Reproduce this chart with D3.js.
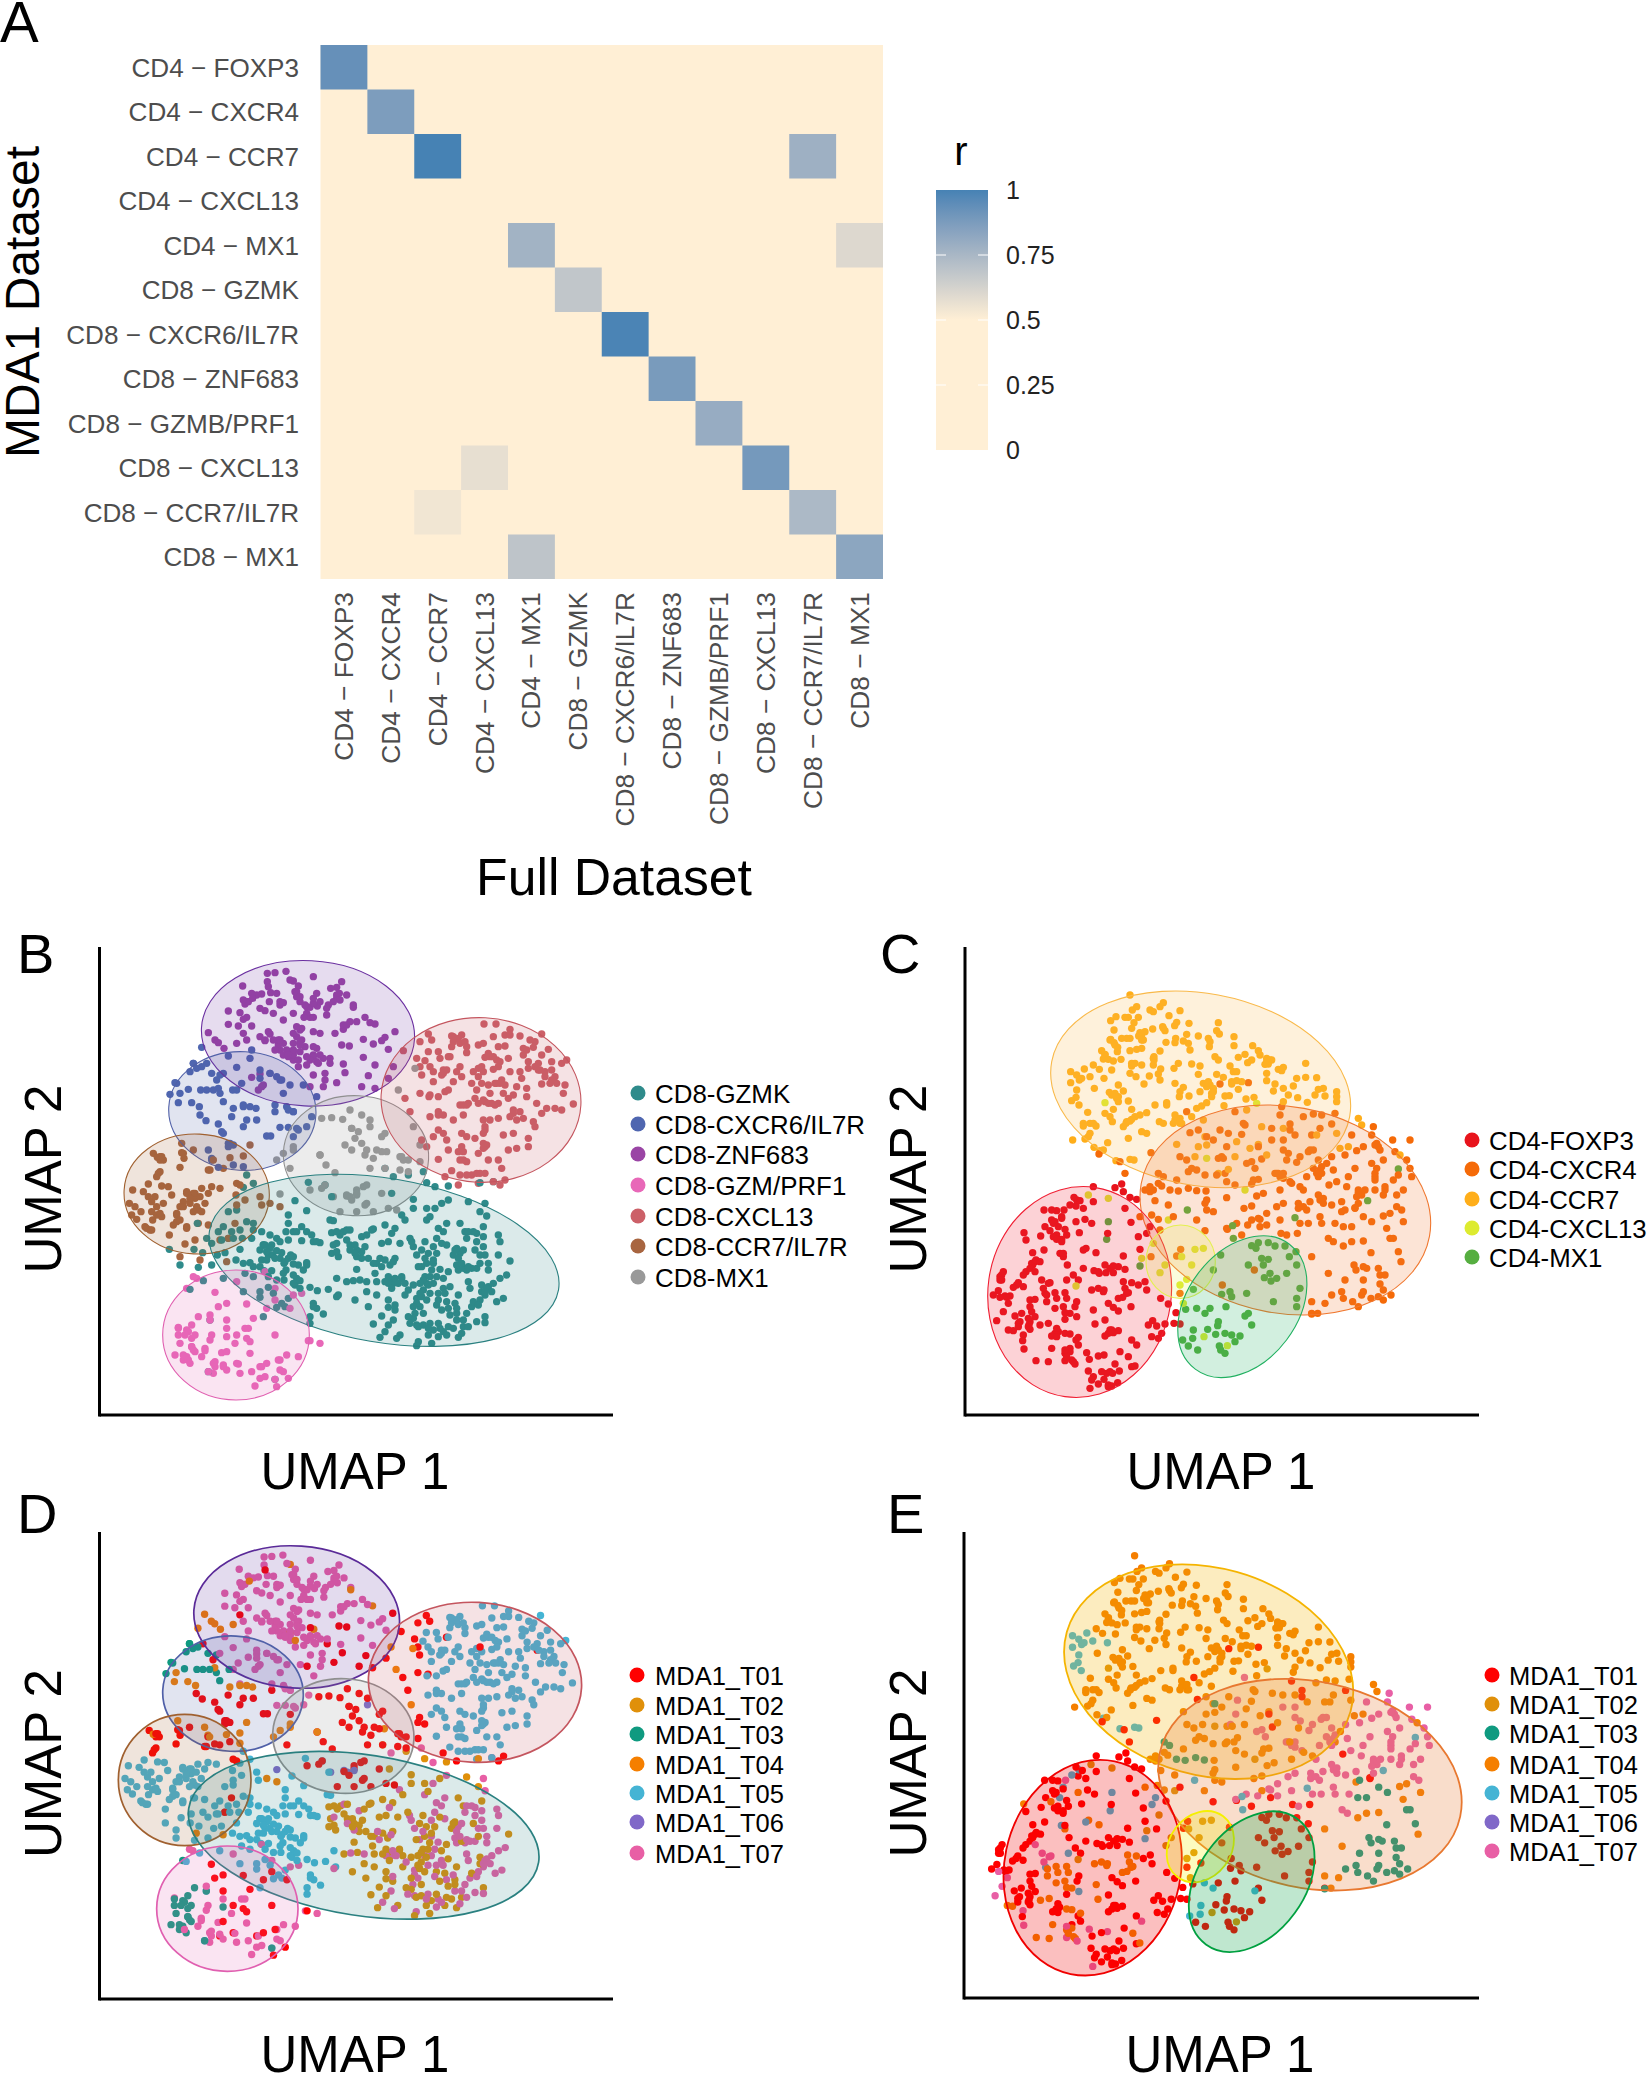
<!DOCTYPE html>
<html><head><meta charset="utf-8">
<script src="https://cdn.jsdelivr.net/npm/d3@7"></script>
<style>html,body{margin:0;background:#fff}svg{display:block}text{font-family:"Liberation Sans",Arial,sans-serif}</style>
</head><body><svg id="c" width="1647" height="2076"></svg>
<script>
// ---------- Panel A ----------
const heatLabels=["CD4 − FOXP3","CD4 − CXCR4","CD4 − CCR7","CD4 − CXCL13","CD4 − MX1","CD8 − GZMK","CD8 − CXCR6/IL7R","CD8 − ZNF683","CD8 − GZMB/PRF1","CD8 − CXCL13","CD8 − CCR7/IL7R","CD8 − MX1"];
// [row, column, r]; every pair not listed is below 0.5
const heatValues=[[0,0,.93],[1,1,.87],[2,2,1],[2,10,.78],[4,4,.77],[4,11,.6],[5,5,.68],[6,6,.99],[7,7,.88],[8,8,.8],[9,3,.57],[9,9,.89],[10,2,.54],[10,10,.74],[11,4,.69],[11,11,.83]];
const heatTicks=[0,.25,.5,.75,1];
const heatTickText=["0","0.25","0.5","0.75","1"];

// ---------- CD8 cells: cluster_sample = x,y,x,y,... ----------
const GZMK_T05=[300,1005,268,958,355,1012,342,958,368,968,395,1005,412,975,435,968,480,958,468,990,490,1000,510,998,545,990,540,1010,552,1022,575,1022,555,945,570,955,590,962,578,975,560,965,605,968,612,1000,625,985,632,975,618,1020,640,1002,655,1005,680,998,612,1050,640,1060,660,1052,690,1072,712,1082,745,1078,775,1095,770,1045,520,760,500,735,490,772,445,845,470,840,430,890,455,905,500,875,520,880,545,905,570,915,590,925,625,855,625,880,650,905,665,890,680,905,695,915,618,905,625,930,665,932,710,935,550,945,415,905,425,930,445,925,460,925,487,925,515,925,352,880,380,925,395,940,430,1045,370,1052,330,1078,490,1085,540,1102,565,1072,625,1105,615,1130,590,1132,700,1120,710,1135,730,1152,690,1160,690,1180,550,1160,390,1170,645,812,680,842,685,757,735,765,755,800,760,872,750,870,385,1325,585,1348,540,960,550,945,565,975,600,985,615,995,640,980,520,900,480,900,700,935,720,938,680,1005,645,1065,660,1075,700,1130,640,905,600,935,575,945,585,985,560,990,520,1010,495,1030,520,1040,565,1040,590,1050,640,1035,650,1045,670,1020,610,1030,540,1085,580,1090,605,1120];
const GZMK_T02=[1105,768,1040,758,1200,758,915,715,985,735,1000,808,935,790,1040,835,1085,820,1165,815,1200,845,1000,835,975,870,1050,860,1140,880,915,885,880,897,860,915,945,895,810,900,790,905,770,905,755,908,780,915,800,930,810,945,830,960,825,970,855,950,905,940,925,935,865,985,845,985,755,970,770,965,775,980,960,940,1035,935,1085,940,1130,955,1045,970,1015,1010,945,985,890,1000,915,990,885,1030,830,1018,1060,990,1055,1020,1105,1025,925,1040,965,1045,915,1055,935,1075,975,1060,890,1055,1000,1065,1030,1050,1050,1040,1045,1065,1030,1080,1110,1070,1205,1065,1290,993,1135,1095,1075,1110,1100,1115,1020,1090,1000,1130,1030,1150,1000,1165,1030,1185,1075,1180,1100,1215,1130,1150,1110,1155,1150,1190,1135,1222,1215,1160,945,1140,925,1185,900,1222,960,1215,1045,1215,1010,1247,1055,1240,905,1158,880,1182,925,1132,865,1130,890,1095,860,1085,825,1110,1125,960,1120,975,1150,1015,1200,1000,1185,960,1155,905,1210,890,1040,1000,1035,1040,1020,1060,1090,1045,1040,1110,1025,1100,1085,1140,1130,1135,1180,1115,1205,1085,985,1160,1015,1190,1060,1200,1105,1190,1120,1195,965,1040,930,1050,975,1095,925,1110,845,965,825,945,875,900,760,945,990,925,1025,960,1070,970,880,1000,930,1005,840,1050,800,1055];
const GZMK_T07=[1240,755,940,740,1030,725,1065,770,1065,835,1105,810,1215,820,1220,858,965,855,1040,870,1100,880,1165,905,1190,910,1210,920,1255,915,1190,935,1260,935,1075,895,1090,905,935,910,995,935,1070,925,1100,945,1150,960,1135,985,1145,1000,1165,1010,1190,1015,1210,950,1215,975,1225,1000,1255,975,1035,985,1010,975,940,995,1080,1018,1135,1020,1160,1020,945,1045,940,1060,1060,1060,1090,1075,1165,1055,1170,1075,1225,1070,1240,1060,1260,1045,1280,1035,1235,1085,1215,1085,1200,1110,1175,1130,1160,1150,1250,1115,1270,1105,1095,1090,1070,1125,1010,1105,1020,1130,1010,1185,1045,1195,1080,1195,1075,1220,1130,1170,1165,1190,1145,1210,1190,1175,1215,1178,940,1170,915,1205,950,1225,1015,1235,1140,970,1130,1005,1175,1015,1225,1020,1200,975,1180,905,1160,925,1060,1000,1025,1010,1040,1060,1070,1040,1050,1090,1010,1120,1075,1090,1125,1120,1105,1135,1195,1125,1220,1075,1215,1095,1005,1150,990,1180,1050,1180,1090,1205,1150,1170,955,1060,925,1060,985,1080,945,1125,830,980,810,960,845,920,800,900,770,940,1000,950,1060,950,900,985,905,1010,860,1055,820,1052,770,1100];
const CXCL13_T05=[1212,282,1115,318,1135,325,1145,315,1120,335,1155,335,1160,350,1160,368,1115,350,1110,380,1075,365,1080,385,1045,365,1035,392,1050,410,1060,425,1100,420,1090,430,1140,410,1130,425,1145,440,1120,455,1105,480,1060,455,1047,500,1075,500,1095,485,1195,345,1210,340,1240,320,1275,315,1290,315,1320,318,1350,330,1365,335,1385,312,1255,350,1330,355,1360,352,1405,358,1330,375,1385,375,1225,370,1240,380,1215,382,1260,395,1255,410,1285,385,1345,395,1375,400,1415,395,1445,400,1460,390,1195,415,1180,425,1210,425,1240,418,1290,425,1320,425,1325,445,1345,415,1380,420,1415,420,1395,440,1425,440,1410,460,1455,465,1195,440,1175,460,1205,460,1225,465,1245,460,1265,450,1275,465,1310,470,1340,475,1385,462,1450,490,1230,490,1190,480,1185,505,1140,525,1165,520,1195,520,1215,515,1235,520,1255,520,1270,490,1285,505,1300,495,1340,500,1400,535,1425,535,1445,540,1385,550,1480,522,1150,555,1300,540,1320,545,1290,560,1255,565,1230,570,1360,575,1075,545,1090,555,1050,560,1120,570,1210,570,1215,590,1270,615,1300,610,1345,625,1075,600,1060,620,1100,630,1145,610,1160,620,1185,625,1220,645,1210,655,1195,670,1145,650,1105,660,1135,665,1285,660,1310,655,1345,650,1140,690,1160,695,1225,690,1255,690,1265,715,1075,688,1200,730,1175,735,1160,735,1140,735,1215,730,1248,282,1290,298,1275,348,1370,520,1365,590,1115,722,1195,760,1240,755,1120,320,1140,340,1090,420,1085,435,1230,380,1250,390,1340,360,1365,410,1395,425,1415,450,1430,460,1250,460,1260,460,1210,510,1225,520,1245,525,1160,525,1150,525,1300,550,1310,570,1330,565,1215,600,1210,610,1150,665,1150,690,1210,640,1215,650,1190,730,1075,555,1090,610];
const CXCL13_T01=[1020,335,1055,330,1045,312,970,362,1010,385,1020,410,1025,435,1050,495,1020,490,975,505,990,545,1025,630,1040,650,1095,740,1135,765,1260,765,1275,750,1105,380,1205,410,1375,420];
const ZNF683_T07=[562,130,585,128,618,124,700,140,630,150,562,155,488,168,655,168,785,155,770,172,515,190,545,192,572,188,590,190,645,185,650,200,710,190,700,205,752,175,778,190,800,195,770,205,760,215,490,210,505,215,495,222,568,215,610,218,600,225,660,215,675,225,690,232,712,228,745,225,740,235,820,225,445,243,480,248,540,235,555,242,580,250,640,250,680,250,672,262,690,262,700,262,740,255,500,262,490,268,610,270,855,262,830,275,870,278,445,283,475,288,515,288,800,285,790,298,650,290,665,295,640,310,565,305,570,312,700,305,720,310,765,310,555,332,580,330,595,330,650,320,665,330,660,345,675,350,850,328,880,342,905,332,915,322,500,330,595,345,585,360,640,360,620,360,660,365,700,380,720,375,690,390,715,400,750,385,625,380,610,375,640,390,655,410,680,405,700,435,735,430,735,450,730,470,885,405,850,382,925,358,790,402,550,465,535,480,545,470,515,442,540,432,680,230,700,220,720,215,770,195,780,210,650,185,660,200,600,330,610,340,640,340,680,380,700,375,710,395,730,385,600,360,625,375,640,375,660,335,660,300,790,285,810,275,540,320,555,330,600,215,530,195,500,215];
const ZNF683_T01=[490,310,785,345,808,348,770,458,700,350,565,170,865,437,795,428,750,400,945,305,925,445,845,470,885,475,690,470];
const ZNF683_T04=[640,153,518,205,820,232,885,282,385,308,405,330,432,355,415,338,470,340,710,355,640,365,655,390,940,410];
const CXCR6_T07=[445,378,470,412,515,360,510,385,430,430,485,460,540,420,570,430,590,440,600,450,630,465,670,465,610,490,620,530,640,545,655,600,680,590,600,592,625,592,650,595,710,500,695,560,470,480,490,525,540,445,605,450,570,430,640,545,625,540,585,525];
const CXCR6_T03=[285,458,340,400,330,425,325,478,362,480,380,480,400,480,420,490,430,515,458,480,270,493,290,460,350,415,395,430,420,435,340,400,365,410];
const CXCR6_T04=[365,352,295,518,335,518,358,530,300,490,415,475,460,535,490,530,510,530,528,535,385,660,395,685,490,710];
const CXCR6_T01=[380,400,410,450,360,555,378,572,415,582,430,610,445,640,560,618,572,618,455,560,500,570,530,570,585,545,640,620,490,590,425,605,445,650,460,645,450,640,395,690,415,712,460,705];
const CCR7_T05=[158,780,205,762,190,785,245,768,265,770,275,795,148,820,165,830,183,845,155,855,170,868,195,890,215,900,205,800,225,800,250,820,215,815,230,830,240,850,218,870,280,885,300,870,290,855,310,830,320,785,345,790,365,775,395,770,420,775,330,820,345,805,360,800,355,840,385,790,375,820,268,915,320,895,345,930,315,942,300,980,468,795,540,800,545,825,495,810,470,825,355,880,385,885,420,930,320,790,340,790,330,805,310,815,300,830,350,830,365,845,215,845,230,855,245,860,290,850,290,875,200,895,210,900,340,845,320,890];
const CCR7_T01=[245,680,220,670,305,668,312,685,340,660,430,715,385,720,470,760,480,765,300,712,235,730,465,880,445,925,240,690,240,680,250,690,310,670,230,740,240,725,390,720];
const CCR7_T04=[305,640,450,683,490,678,400,690,360,990,440,995,600,830,570,820,232,682,510,645];
const MX1_T01=[725,565,755,563,810,540,845,555,788,568,870,570,815,595,835,605,825,625,795,645,815,660,845,640,855,675,890,660,905,665,880,685,965,680,985,690,915,715,870,715,960,720,985,725,720,675,765,728,800,798,815,810,830,780,860,765,905,790,855,825,830,845,780,845,925,835,1020,695,1020,645,690,780,725,775,735,765,880,845,950,840,630,715,738,705,905,620,915,610,960,680,970,690,860,660,815,595,850,770,860,820,830,790];
const MX1_T04=[720,675,920,665,610,670,640,660,590,690,1000,590,1005,415,955,480,640,650];
const MX1_T06=[800,795,810,800,830,795,760,800,870,590,600,792];
const GZM_T03=[320,1075,355,1160,335,1225,345,1215,295,1215,300,1240,335,1250,345,1265,320,1280,330,1300,310,1290,390,1170,385,1325,585,1348,440,1220,295,1195,320,1200,335,1185,285,1275,325,1205,315,1215,335,1250,340,1260,310,1275];
const GZM_T01=[405,1087,440,1120,415,1130,500,1122,520,1165,440,1170,470,1215,500,1225,510,1235,440,1265,585,1215,560,1135,585,1110,630,1135,690,1232,560,1300,590,1370,595,1290,625,1345,470,1300,430,1310,540,1310];
const GZM_T07=[340,1040,350,1045,470,1055,555,1025,585,1075,640,1095,665,1090,295,1192,390,1155,395,1215,390,1230,440,1195,495,1195,505,1195,465,1240,425,1268,375,1262,365,1280,400,1300,405,1310,430,1305,440,1320,400,1330,480,1330,475,1302,515,1325,545,1310,555,1340,525,1368,540,1345,600,1290,620,1275,600,1320,610,1325,655,1280,720,1240,685,1232,510,1270,325,1290,405,1295,375,1255];
const cd8Groups=[["CD8-GZMK","MDA1_T05",GZMK_T05],["CD8-GZMK","MDA1_T02",GZMK_T02],["CD8-GZMK","MDA1_T07",GZMK_T07],["CD8-CXCL13","MDA1_T05",CXCL13_T05],["CD8-CXCL13","MDA1_T01",CXCL13_T01],["CD8-ZNF683","MDA1_T07",ZNF683_T07],["CD8-ZNF683","MDA1_T01",ZNF683_T01],["CD8-ZNF683","MDA1_T04",ZNF683_T04],["CD8-CXCR6/IL7R","MDA1_T07",CXCR6_T07],["CD8-CXCR6/IL7R","MDA1_T03",CXCR6_T03],["CD8-CXCR6/IL7R","MDA1_T04",CXCR6_T04],["CD8-CXCR6/IL7R","MDA1_T01",CXCR6_T01],["CD8-CCR7/IL7R","MDA1_T05",CCR7_T05],["CD8-CCR7/IL7R","MDA1_T01",CCR7_T01],["CD8-CCR7/IL7R","MDA1_T04",CCR7_T04],["CD8-MX1","MDA1_T01",MX1_T01],["CD8-MX1","MDA1_T04",MX1_T04],["CD8-MX1","MDA1_T06",MX1_T06],["CD8-GZM/PRF1","MDA1_T03",GZM_T03],["CD8-GZM/PRF1","MDA1_T01",GZM_T01],["CD8-GZM/PRF1","MDA1_T07",GZM_T07]];

// ---------- CD4 cells ----------
const CD4CCR7_T04=[540,105,640,128,630,140,560,140,547,150,600,150,610,155,690,152,657,167,498,170,482,182,525,172,535,172,565,172,552,188,680,187,674,197,717,190,805,188,545,205,492,210,608,207,638,200,645,212,585,215,570,218,566,228,800,212,808,222,710,223,745,228,852,230,515,235,530,235,540,235,580,240,482,238,492,248,677,235,675,248,648,247,700,243,715,250,775,235,780,245,778,260,852,257,908,257,503,262,502,275,455,272,465,283,460,297,475,298,540,272,560,268,575,265,630,273,720,270,925,272,930,285,885,283,865,292,612,290,795,290,805,300,490,303,513,298,612,300,610,315,545,310,555,310,575,315,905,300,893,308,950,295,965,300,945,313,955,312,725,312,685,310,750,318,672,325,840,318,850,335,985,328,995,332,1067,310,430,315,448,328,485,330,632,327,540,340,558,350,598,348,625,342,630,360,745,343,800,343,820,352,860,335,950,340,1040,355,1067,352,1100,353,582,372,675,370,775,365,770,380,760,370,845,365,860,362,875,365,950,362,975,372,700,382,433,385,505,375,1030,378,1000,385,1105,388,1120,385,478,397,495,400,520,393,690,395,688,410,717,408,750,395,790,395,785,410,970,393,865,388,1160,395,1095,405,1125,408,1015,405,1160,410,1160,425,500,415,505,425,535,423,825,408,838,407,888,417,912,412,770,428,755,438,740,445,615,435,650,435,822,437,1043,413,1072,427,1000,425,545,448,490,448,465,460,413,457,725,470,675,465,690,475,590,458,570,465,555,470,540,483,528,490,520,500,480,470,487,485,628,485,640,490,670,490,690,490,430,490,400,498,438,498,420,520,415,530,575,515,590,520,535,535,405,537,368,540,473,548,432,562,460,570,760,480,890,450,1000,505,1100,525,1160,520,1225,475,1235,495,1195,560,1170,565,1350,585,935,500,765,530,745,560,770,555,680,553,860,545,900,565,925,553,950,585,855,590,735,590,805,640,835,628,480,240,495,255,465,285,575,225,575,240,780,375,790,385,785,400,1000,322,950,305,845,372,530,485,545,478,675,480,695,490,650,428,610,295,545,318,640,205,485,405,505,410,960,300,400,490,420,490];
const CD4CCR7_T05=[403,327,362,335,380,345,395,355,420,350,462,355,362,368,388,360,380,390,365,422,378,412,387,435,450,572,540,598,552,600,498,602];
const CD4CXCR4_T07=[1270,500,1265,525,1240,560,1280,550,1290,570,1300,600,1335,575,1328,540,1380,540,1370,600,1345,645,1380,625,1385,650,1330,660,1220,572,1205,525,1185,585,1145,590,1105,600,1115,620,1090,625,1105,650,1080,570,1040,607,1265,610,1280,625,1275,660,1215,625,1195,650,1150,630,1160,665,1070,650,1020,665,1000,655,975,640,1060,690,1105,705,1120,730,1145,735,1175,725,1190,680,1225,690,1245,690,1275,690,1305,680,1300,705,1360,690,1340,705,1225,730,1235,705,1340,740,1355,750,1080,725,1045,745,1070,750,1000,730,980,740,950,760,925,775,1110,770,1115,790,1155,790,1050,790,1010,825,990,780,950,795,930,778,893,795,860,790,830,805,1135,835,1150,845,1075,790,855,455,835,520,830,560,815,590,890,610,915,625,905,605,965,540,1000,540,1000,570,1015,580,1050,590,1075,575,1090,570,1275,555,1285,560,1275,640,1275,650,1110,630,1100,640,1225,697,1220,710,1060,740,1045,730,1120,715,1110,720,1305,690,980,640,990,650,1000,640];
const CD4CXCR4_T03=[1205,800,1263,878,1212,915,1218,930,1240,920,1250,925,1285,925,1290,945,1305,945,1185,960,1240,960,1290,972,1300,990,1240,995,1235,1005,1175,995,1145,1005,1180,1015,1208,1025,1225,1040,1263,1015,1285,1010,1300,1020,1323,1005,1180,800,1265,785,1240,770,1185,750,1320,835,1330,835,1345,875,770,530,660,690,685,693,715,685,740,692,625,640,640,650,1085,1062];
const CD4CXCR4_T04=[1240,843,1180,858,1205,845,1320,760,1300,768,1360,785,1175,755,1310,805,1353,905,1085,890,1135,940,1125,1030,1085,1025,1103,1060,600,680,585,690,610,690,635,678,680,660,768,693,770,720,765,730,830,665,855,675,910,660,925,658,905,672,830,713,882,745,905,738,940,700,920,708,880,490,885,495,810,510,745,510,790,540,875,523,805,595,820,595,690,590,710,600,725,625,740,630,715,635,765,645,800,645,825,640,965,505,1110,505,1090,462,1115,465,1155,460,1060,470,1085,525,1035,525,995,440,1010,600,985,640,1115,640,1130,610,990,690,1025,670,1050,680,770,750,790,755,740,780,625,778,570,770,655,735,615,722,605,765,905,780,600,695,625,670];
const CD4CXCR4_T01=[810,372,895,368,710,455,990,465,1020,492,1145,492,720,518,925,560,935,597,603,578,447,582,510,605,525,640,1137,675,1215,743,930,800,993,820,1042,820,765,812,875,825,832,808,670,770,630,810,692,868,680,888,603,890,690,1000,913,930,817,975,1215,745,1020,510,1085,1060];
const FOXP3_T01=[430,680,495,683,515,672,520,695,540,712,560,718,372,712,390,722,378,738,400,745,430,725,525,745,282,750,305,750,320,752,335,775,310,790,285,800,345,808,350,825,405,778,425,790,388,818,272,828,228,840,310,830,320,838,335,845,543,787,565,830,473,820,248,878,282,870,340,880,570,868,520,888,258,900,270,905,248,915,240,925,352,915,465,915,490,918,505,920,400,925,525,928,432,932,448,940,468,938,490,938,228,935,220,945,160,935,150,950,155,960,370,945,385,960,205,968,190,982,220,980,565,975,585,965,590,990,145,992,130,1005,165,1008,180,1008,240,1020,255,1018,632,1015,475,1030,490,1042,380,1025,375,1040,240,1040,245,1055,505,1053,543,1040,655,1032,255,1070,215,1060,195,1068,235,1075,345,1078,210,1085,465,1080,237,1095,205,1100,678,1058,608,1082,595,1095,620,1098,645,1092,672,1090,690,1092,240,1108,320,1105,485,1110,505,1112,475,1120,305,1128,320,1130,465,1128,605,1130,625,1135,635,1120,218,1142,378,1140,545,1140,385,1155,360,1165,510,1175,418,1198,445,1188,495,1212,545,1220,415,1233,455,1235,470,1240,488,1240,508,1233,430,1250,425,1260,462,1258,445,1272,475,1280,485,1278,503,1268,255,905,245,910,315,1120,325,1115,240,1085,235,1100,205,1090,480,1235,475,1275,480,925,445,935,305,780,315,785,320,825,335,838,155,945,150,960,200,975,170,1012,480,1110,490,1118];
const FOXP3_T04=[222,818,300,812,378,785,408,865,438,878,340,890,430,1050,425,990,445,985,462,990,520,965,545,968,525,985,535,998,518,1012,505,1015,290,1005,315,998,345,998,320,1015,350,1015,290,1025,315,1045,340,1040,345,1058,360,1060,175,1110,190,1112,270,1095,295,1090,435,1092,345,1120,360,1122,385,1132,305,1165,350,1190,365,1200,258,1202,295,1205,555,1218,535,1190,530,1000,460,995,360,1175,345,1180,370,1205];
const FOXP3_T07=[342,750,275,960,300,968,280,985,160,1055,140,1082,220,1125,560,1155,222,1167,345,1170,410,1178,345,1202,375,1212,462,1185,420,1285,150,1012,175,1030,255,935,295,970];
const FOXP3_T05=[380,720,360,735,335,770,325,800,600,800,590,820,400,870,330,880,350,960,285,1000,380,1070];
const CD4MX1_T01=[812,885,895,915,955,898,918,865,955,848,1038,875,943,953,963,963,980,955,970,1025,1040,1015,815,1003,840,995,845,1010,730,988,707,1048,780,1045,828,1040,895,1060,805,1085,803,1097,773,1108,797,1123,825,1120,845,1125,870,1128,715,1158,743,1170,808,1158,812,1170,825,1180,905,857,925,848,975,858,1005,858,1018,890,1040,915,1010,940,940,915,935,895,960,940,1050,985,1040,1040,890,1000,855,1145,905,1095,790,930];
const CD4MX1_T05=[475,785,470,838,570,918,1035,773,848,797,712,750,1253,722,1345,627,850,835,740,1045,765,1060,730,1110,728,1135,698,1140,885,1068];
const CD4CXCL13_T02=[690,975,710,958,762,1130,832,1157,885,690,920,430,770,595,655,780,735,868,760,865,695,890,725,915,630,938,645,915,575,895,610,850,700,1030,378,978,475,715,415,705,465,428];
const cd4Groups=[["CD4-CCR7","MDA1_T04",CD4CCR7_T04],["CD4-CCR7","MDA1_T05",CD4CCR7_T05],["CD4-CXCR4","MDA1_T07",CD4CXCR4_T07],["CD4-CXCR4","MDA1_T03",CD4CXCR4_T03],["CD4-CXCR4","MDA1_T04",CD4CXCR4_T04],["CD4-CXCR4","MDA1_T01",CD4CXCR4_T01],["CD4-FOXP3","MDA1_T01",FOXP3_T01],["CD4-FOXP3","MDA1_T04",FOXP3_T04],["CD4-FOXP3","MDA1_T07",FOXP3_T07],["CD4-FOXP3","MDA1_T05",FOXP3_T05],["CD4-MX1","MDA1_T01",CD4MX1_T01],["CD4-MX1","MDA1_T05",CD4MX1_T05],["CD4-CXCL13","MDA1_T02",CD4CXCL13_T02]];

// ---------- legends ----------
const cd8Names=["CD8-GZMK","CD8-CXCR6/IL7R","CD8-ZNF683","CD8-GZM/PRF1","CD8-CXCL13","CD8-CCR7/IL7R","CD8-MX1"];
const cd8Colors=["#2F8B8B","#4F66B0","#9A45A5","#E868B8","#CC6068","#A86540","#999999"];
const cd4Names=["CD4-FOXP3","CD4-CXCR4","CD4-CCR7","CD4-CXCL13","CD4-MX1"];
const cd4Colors=["#E8141C","#F56A08","#FFAE1A","#DDEB30","#56AE40"];
const sampleNames=["MDA1_T01","MDA1_T02","MDA1_T03","MDA1_T04","MDA1_T05","MDA1_T06","MDA1_T07"];
const sampleColors=["#FF0000","#E0900A","#0F9A80","#F57F00","#45B4D4","#8068C8","#E85FA5"];

// ---------- ellipses: name,cx,cy,rx,ry,angle,stroke in panel crop units ----------
const ellB=[["CD8-ZNF683",684,310,320,218,3,"#6A2FA0"],["CD8-CXCR6/IL7R",487,543,221,178,3,"#5060A8"],["CD8-MX1",828,677,218,180,3,"#8F8F8F"],["CD8-CXCL13",1203,510,300,247,3,"#C4555E"],["CD8-CCR7/IL7R",350,792,218,180,3,"#A0602F"],["CD8-GZMK",912,991,531,246,9.6,"#2A8080"],["CD8-GZM/PRF1",468,1215,220,195,0,"#E05FB0"]];
const ellC=[["CD4-CCR7",752,388,454.5,288,10.5,"#F9B94A"],["CD4-CXCR4",1006,750,439.6,310,10.4,"#F07830"],["CD4-FOXP3",389,996,275,317,8,"#F01E32"],["CD4-CXCL13",692,905,104,110,0,"#E4F050"],["CD4-MX1",877,1040,234.6,166,-53,"#20B060"]];
const ellD=[["CD8-ZNF683",650,291,309,213,4,"#5A2A98"],["CD8-CXCR6/IL7R",459,521,211,173,3,"#5060A8"],["CD8-MX1",790,648,212,172,3,"#8F8F8F"],["CD8-CXCL13",1185,487,320,240,3,"#C4555E"],["CD8-CCR7/IL7R",314,780,199,197,0,"#A0602F"],["CD8-GZMK",851,946,531,241,8.8,"#2A8080"],["CD8-GZM/PRF1",442,1166,212,188,0,"#E05FB0"]];
const ellE=[["CD4-CCR7",776,425,442,310.6,15.65,"#F5B400"],["CD4-CXCR4",1080,764,460.6,309.4,12,"#E87830"],["CD4-FOXP3",428,1013,264.7,325.8,11.7,"#F00000"],["CD4-CXCL13",751,950,114,92.7,-53,"#F5F000"],["CD4-MX1",905,1055,233,160,-53.9,"#00A040"]];

const panels=[
 {letter:"B",lx:17,cropX:80,cropY:930,cells:cd8Groups,key:0,names:cd8Names,colors:cd8Colors,ell:ellB,sw:1.1,op:.17,rx:[80,600],ry:[930,1430],ax:[99.5,947,1415,613],ux:355,uy:1489,u2x:61,lg:{dx:638,tx:655,ys:[1093,1124,1154,1185,1216,1246,1277]},fs:25.9},
 {letter:"C",lx:880,cropX:950,cropY:960,cells:cd4Groups,key:0,names:cd4Names,colors:cd4Colors,ell:ellC,sw:1.1,op:.2,rx:[950,1470],ry:[960,1460],ax:[965,947,1415,1479],ux:1221,uy:1489,u2x:926,lg:{dx:1472,tx:1489,ys:[1140,1169,1199,1228,1257]},fs:25.8},
 {letter:"D",lx:17,cropX:80,cropY:1520,cells:cd8Groups,key:1,names:sampleNames,colors:sampleColors,ell:ellD,sw:1.7,op:.17,rx:[75.3,599.3],ry:[1515.3,1996.9],ax:[99.5,1532,1999,613],ux:355,uy:2072,u2x:61,lg:{dx:637,tx:655,ys:[1675,1705,1734,1764,1793,1822,1853]},fs:25.5},
 {letter:"E",lx:887,cropX:950,cropY:1530,cells:cd4Groups,key:1,names:sampleNames,colors:sampleColors,ell:ellE,sw:1.8,op:.25,rx:[946.3,1490.3],ry:[1519.2,2041.2],ax:[964,1532,1998,1479],ux:1220,uy:2072,u2x:926,lg:{dx:1492,tx:1509,ys:[1675,1704,1733,1764,1793,1822,1851]},fs:25.5}
];

const svg=d3.select("#c");
// ---- heatmap ----
const hx=d3.scaleBand().domain(d3.range(12)).range([320.5,883]);
const hy=d3.scaleBand().domain(d3.range(12)).range([45,579]);
const cream="#FFEFD5";
const color=d3.scaleLinear().domain([0,.5,1]).range([cream,cream,"#4682B4"]).interpolate(d3.interpolateLab);
const A=svg.append("g");
A.append("rect").attr("x",320.5).attr("y",45).attr("width",562.5).attr("height",534).attr("fill",cream);
A.selectAll(".t").data(heatValues).join("rect").attr("x",d=>hx(d[1])).attr("y",d=>hy(d[0])).attr("width",hx.bandwidth()).attr("height",hy.bandwidth()).attr("fill",d=>color(d[2]));
A.selectAll(".yl").data(heatLabels).join("text").attr("x",299).attr("y",(d,i)=>hy(i)+hy.bandwidth()/2+9.5).attr("text-anchor","end").attr("font-size",26.1).attr("fill","#4d4d4d").text(d=>d);
A.selectAll(".xl").data(heatLabels).join("text").attr("transform",(d,i)=>`translate(${hx(i)+hx.bandwidth()/2+9},592) rotate(-90)`).attr("text-anchor","end").attr("font-size",26.3).attr("fill","#4d4d4d").text(d=>d);
svg.append("text").attr("transform","translate(39,302) rotate(-90)").attr("text-anchor","middle").attr("font-size",48).text("MDA1 Dataset");
svg.append("text").attr("x",614).attr("y",895).attr("text-anchor","middle").attr("font-size",51.7).text("Full Dataset");
svg.append("text").attr("x",0).attr("y",42).attr("font-size",58).text("A");
// colour bar
const barY=d3.scaleLinear().domain([0,1]).range([450,190]);
const grad=svg.append("defs").append("linearGradient").attr("id","bar").attr("x1",0).attr("x2",0).attr("y1",1).attr("y2",0);
d3.range(0,1.001,.05).forEach(v=>grad.append("stop").attr("offset",v).attr("stop-color",color(v)));
svg.append("rect").attr("x",936).attr("y",190).attr("width",52).attr("height",260).attr("fill","url(#bar)");
heatTicks.forEach((v,i)=>{
  if(v>0&&v<1){svg.append("line").attr("x1",936).attr("x2",946).attr("y1",barY(v)).attr("y2",barY(v)).attr("stroke","#fff");svg.append("line").attr("x1",978).attr("x2",988).attr("y1",barY(v)).attr("y2",barY(v)).attr("stroke","#fff");}
  svg.append("text").attr("x",1006).attr("y",barY(v)+9).attr("font-size",25).attr("fill","#222").text(heatTickText[i]);
});
svg.append("text").attr("x",961).attr("y",165).attr("text-anchor","middle").attr("font-size",40).text("r");

// ---- UMAP panels ----
panels.forEach(p=>{
  const g=svg.append("g");
  const sx=d3.scaleLinear().domain([0,1560]).range(p.rx), sy=d3.scaleLinear().domain([0,1500]).range(p.ry);
  const ex=d3.scaleLinear().domain([0,1560]).range([p.cropX,p.cropX+520]), ey=d3.scaleLinear().domain([0,1500]).range([p.cropY,p.cropY+500]);
  const col=d3.scaleOrdinal().domain(p.names).range(p.colors);
  const cells=[];
  p.cells.forEach(gr=>{for(let i=0;i<gr[2].length;i+=2)cells.push({x:gr[2][i],y:gr[2][i+1],c:gr[p.key]});});
  // draw order only: interleave so no category lies wholly on top
  cells.sort((a,b)=>((a.x*7+a.y*13)%29)-((b.x*7+b.y*13)%29));
  g.selectAll("circle").data(cells).join("circle").attr("cx",d=>sx(d.x)).attr("cy",d=>sy(d.y)).attr("r",3.7).attr("fill",d=>col(d.c));
  g.selectAll("ellipse").data(p.ell).join("ellipse")
    .attr("transform",d=>`translate(${ex(d[1])},${ey(d[2])}) rotate(${d[5]})`)
    .attr("rx",d=>ex(d[3])-ex(0)).attr("ry",d=>ey(d[4])-ey(0))
    .attr("fill",d=>d[6]).attr("fill-opacity",p.op).attr("stroke",d=>d[6]).attr("stroke-width",p.sw);
  // axes
  const [ax,t,b,r]=p.ax;
  g.append("line").attr("x1",ax).attr("x2",ax).attr("y1",t).attr("y2",b+1.5).attr("stroke","#000").attr("stroke-width",3);
  g.append("line").attr("x1",ax).attr("x2",r).attr("y1",b).attr("y2",b).attr("stroke","#000").attr("stroke-width",3);
  g.append("text").attr("x",p.ux).attr("y",p.uy).attr("text-anchor","middle").attr("font-size",51).text("UMAP 1");
  g.append("text").attr("transform",`translate(${p.u2x},${(t+b)/2-2}) rotate(-90)`).attr("text-anchor","middle").attr("font-size",51).text("UMAP 2");
  g.append("text").attr("x",p.lx).attr("y",p.letter<"D"?973:1533).attr("font-size",56).text(p.letter);
  g.selectAll(".lgd").data(p.names).join("circle").attr("cx",p.lg.dx).attr("cy",(d,i)=>p.lg.ys[i]).attr("r",7.5).attr("fill",d=>col(d));
  g.selectAll(".lgt").data(p.names).join("text").attr("x",p.lg.tx).attr("y",(d,i)=>p.lg.ys[i]+9.5).attr("font-size",p.fs).text(d=>d);
});
</script></body></html>
